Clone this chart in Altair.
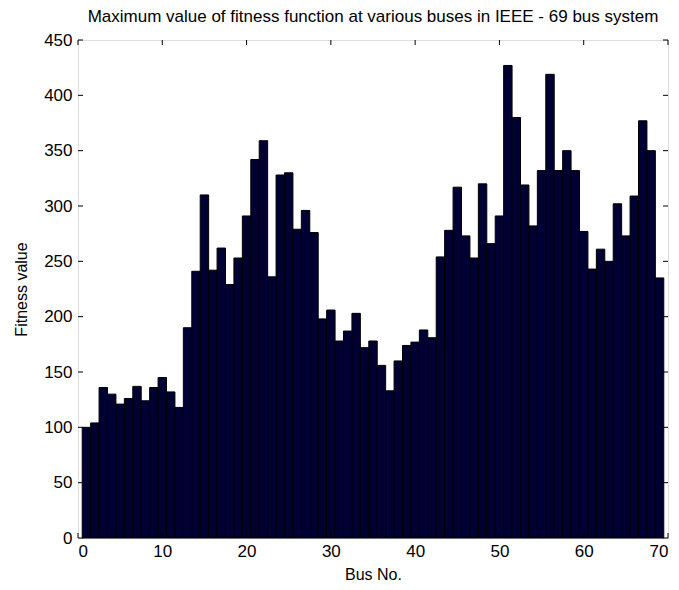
import altair as alt
import pandas as pd

bus = list(range(1, 70))
fitness = [100, 104, 136, 130, 121, 126, 137, 124, 136, 145,
           132, 118, 190, 241, 310, 242, 262, 229, 253, 291,
           342, 359, 236, 328, 330, 279, 296, 276, 198, 206,
           178, 187, 203, 172, 178, 156, 133, 160, 174, 177,
           188, 181, 254, 278, 317, 273, 253, 320, 266, 291,
           427, 380, 319, 282, 332, 419, 332, 350, 332, 277,
           243, 261, 250, 302, 273, 309, 377, 350, 235]
x_ticks = [0, 10, 20, 30, 40, 50, 60, 70]
y_ticks = [0, 50, 100, 150, 200, 250, 300, 350, 400, 450]

W, H = 590, 498
df = pd.DataFrame({"bus": bus, "fitness": fitness})
xt = pd.DataFrame({"v": x_ticks})
yt = pd.DataFrame({"v": y_ticks})

xs = alt.Scale(domain=[0, 70], nice=False, zero=False)
ys = alt.Scale(domain=[0, 450], nice=False)

font = "Liberation Sans"

bars = alt.Chart(df).transform_calculate(
    x0="datum.bus - 0.5", x1="datum.bus + 0.5"
).mark_bar(color="#000033", stroke="#000000", strokeWidth=1).encode(
    x=alt.X("x0:Q", scale=xs, title="Bus No.",
            axis=alt.Axis(values=x_ticks, ticks=False, domain=False, grid=False,
                          labelPadding=5, labelFontSize=17, titleFontSize=16,
                          labelFont=font, titleFont=font, labelColor="#000", titleColor="#000",
                          titleFontWeight="normal", titlePadding=7)),
    x2="x1:Q",
    y=alt.Y("fitness:Q", scale=ys, title="Fitness value",
            axis=alt.Axis(values=y_ticks, ticks=False, domain=False, grid=False,
                          labelPadding=6, labelFontSize=17, titleFontSize=16,
                          labelFont=font, titleFont=font, labelColor="#000", titleColor="#000",
                          titleFontWeight="normal", titlePadding=14)),
    y2=alt.datum(0),
)

tl = 5
ytick_l = alt.Chart(yt).mark_rule(color="#000").encode(
    y=alt.Y("v:Q", scale=ys), x=alt.value(0), x2=alt.value(tl))
ytick_r = alt.Chart(yt).mark_rule(color="#000").encode(
    y=alt.Y("v:Q", scale=ys), x=alt.value(W - tl), x2=alt.value(W))
xtick_b = alt.Chart(xt).mark_rule(color="#000").encode(
    x=alt.X("v:Q", scale=xs), y=alt.value(H - tl), y2=alt.value(H))
xtick_t = alt.Chart(xt).mark_rule(color="#000").encode(
    x=alt.X("v:Q", scale=xs), y=alt.value(0), y2=alt.value(tl))

chart = alt.layer(bars, ytick_l, ytick_r, xtick_b, xtick_t).properties(
    width=W, height=H,
    title=alt.Title("Maximum value of fitness function at various buses in IEEE - 69 bus system",
                    font=font, fontSize=17, fontWeight="normal", color="#000",
                    anchor="middle", offset=5),
    autosize=alt.AutoSizeParams(type="none"),
    padding={"left": 70, "top": 32, "right": 3, "bottom": 44},
).configure_view(stroke="#000", strokeWidth=1).configure(background="white")

chart.save("out.html", embed_options={"renderer": "svg", "actions": False})
